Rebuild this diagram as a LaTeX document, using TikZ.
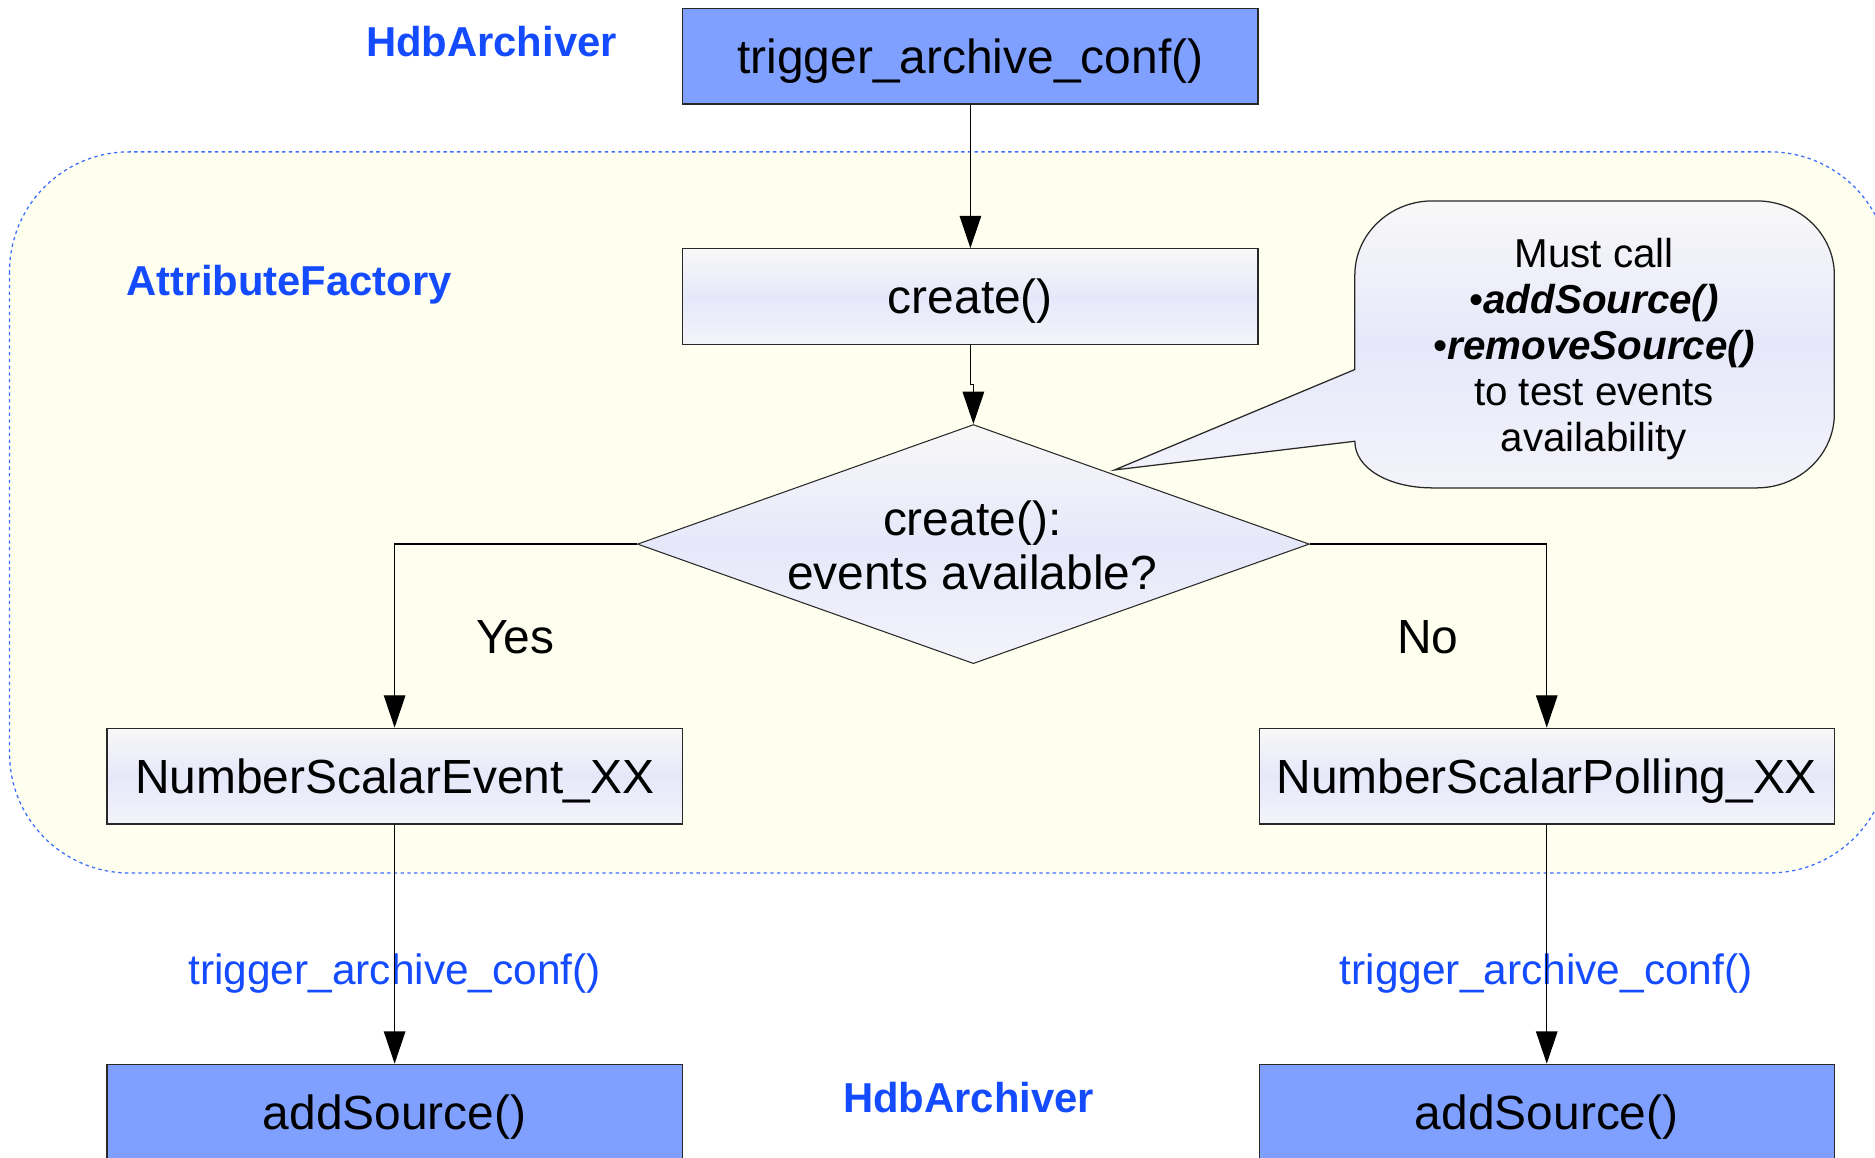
\documentclass[tikz,border=0pt]{standalone}
\usepackage{fontspec}
\setmainfont{Liberation Sans}
\usetikzlibrary{arrows.meta,shapes.geometric}
\definecolor{boxblue}{RGB}{128,160,255}
\definecolor{lblblue}{RGB}{20,75,255}
\definecolor{regfill}{RGB}{255,255,240}
\definecolor{regline}{RGB}{60,110,255}
\definecolor{lavtop}{RGB}{248,248,248}
\definecolor{lavmid}{RGB}{230,232,250}
\definecolor{lavbot}{RGB}{243,243,250}
\definecolor{edge}{RGB}{40,40,40}
\begin{document}
\begin{tikzpicture}[x=0.02cm,y=-0.02cm,
  mainfont/.style={font=\fontsize{22.8}{27}\selectfont},
  grad/.style={top color=lavtop, bottom color=lavbot, middle color=lavmid},
  bluebox/.style={draw=edge, line width=0.6pt, fill=boxblue, minimum width=9.62cm, minimum height=1.6cm, inner sep=0pt, text height=16.5pt, text depth=0pt, mainfont},
  gradbox/.style={draw=edge, line width=0.6pt, grad, minimum width=9.62cm, minimum height=1.6cm, inner sep=0pt, text height=16.5pt, text depth=0pt, mainfont},
  lbl/.style={text=lblblue, font=\fontsize{19.9}{24}\selectfont\bfseries, inner sep=0pt},
  msg/.style={text=lblblue, font=\fontsize{20.2}{24}\selectfont, inner sep=0pt},
  plain/.style={mainfont, inner sep=0pt},
  conn/.style={draw=black, line width=0.6pt, -{Triangle[length=0.54cm,width=0.36cm]}}
]
\clip (0,0) rectangle (1568,968);
\fill[white] (0,0) rectangle (1568,968);
% AttributeFactory region
\draw[regline, line width=0.6pt, dash pattern=on 1.6pt off 1.6pt, fill=regfill, rounded corners=2cm] (8,127) rectangle (1580,730);

% nodes
\node[bluebox] (trig) at (811.5,47) {trigger\_archive\_conf()};
\node[lbl] (h1) at (411,35) {HdbArchiver};
\node[lbl] (af) at (242,238) {AttributeFactory};
\node[gradbox] (create) at (811.5,248) {create()};
\node[diamond, draw=edge, line width=0.5pt, grad, minimum width=11.24cm, minimum height=4cm, inner sep=0pt] (dia) at (814,455) {};
\node[plain, align=center, font=\fontsize{22.8}{25.6}\selectfont] (diatxt) at (813,456) {create():\\events available?};
\node[gradbox] (nse) at (330,649) {NumberScalarEvent\_XX};
\node[gradbox] (nsp) at (1293.5,649) {NumberScalarPolling\_XX};
\node[bluebox] (as1) at (330,930) {addSource()};
\node[bluebox] (as2) at (1293.5,930) {addSource()};
\node[lbl] (h2) at (810,918) {HdbArchiver};
\node[plain] (yes) at (431,533) {Yes};
\node[plain] (no) at (1194,533) {No};
\node[msg] (m1) at (330,814) {trigger\_archive\_conf()};
\node[msg] (m2) at (1293,814) {trigger\_archive\_conf()};

% callout
\coordinate (tip) at (932,393);
\path[draw=edge, line width=0.6pt, grad]
  (1133,309) -- (1133,230) .. controls (1133,196) and (1162,168) .. (1198,168)
  -- (1469,168) .. controls (1505,168) and (1534,196) .. (1534,230)
  -- (1534,346) .. controls (1534,380) and (1505,408) .. (1469,408)
  -- (1198,408) .. controls (1162,408) and (1133,392) .. (1133,369)
  -- (tip) -- cycle;
\node[align=center, inner sep=0pt, font=\fontsize{19.2}{21.9}\selectfont] (note) at (1333,292)
  {Must call\\•\textbf{\textit{addSource()}}\\•\textbf{\textit{removeSource()}}\\to test events\\availability};

% connectors
\draw[conn] (trig.south) -- (create.north);
\draw[conn] (create.south) -- ++(0,33) -| (dia.north);
\draw[conn] (dia.west) -| (nse.north);
\draw[conn] (dia.east) -| (nsp.north);
\draw[conn] (nse.south) -- (as1.north);
\draw[conn] (nsp.south) -- (as2.north);
\end{tikzpicture}
\end{document}
